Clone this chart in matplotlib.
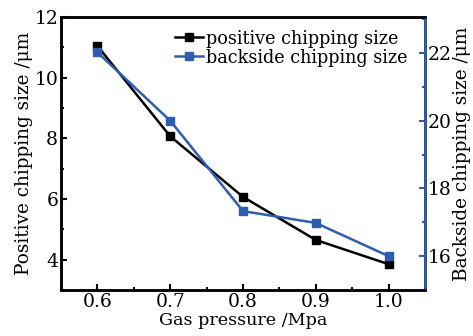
import numpy as np
import matplotlib
matplotlib.use("Agg")
import matplotlib.pyplot as plt
from matplotlib.ticker import MultipleLocator

# data
pressure = [0.6, 0.7, 0.8, 0.9, 1.0]
positive = [11.05, 8.07, 6.07, 4.65, 3.85]
backside = [22.02, 20.0, 17.33, 16.98, 16.0]

BLUE = "#2e5caf"
plt.rcParams["font.family"] = "DejaVu Serif"

fig = plt.figure(figsize=(4.73, 3.36), dpi=100)
ax = fig.add_axes([0.129, 0.137, 0.7695, 0.812])
ax2 = ax.twinx()

l1, = ax.plot(pressure, positive, color="black", lw=1.8, marker="s", ms=6,
              label="positive chipping size", zorder=3)
l2, = ax2.plot(pressure, backside, color=BLUE, lw=1.8, marker="s", ms=6,
               label="backside chipping size", zorder=3)

ax.set_xlim(0.55, 1.05)
ax.set_ylim(3, 12)
ax2.set_ylim(15, 23.06)
ax.set_xticks(pressure)
ax.xaxis.set_minor_locator(MultipleLocator(0.05))
ax.set_yticks([4, 6, 8, 10, 12])
ax.yaxis.set_minor_locator(MultipleLocator(1))
ax2.set_yticks([16, 18, 20, 22])
ax2.yaxis.set_minor_locator(MultipleLocator(1))

for a in (ax, ax2):
    a.tick_params(which="major", direction="in", length=4, width=1.5, pad=2,
                  labelsize=13.5)
    a.tick_params(which="minor", direction="in", length=2, width=1.5)
    for s in a.spines.values():
        s.set_linewidth(1.8)
ax2.tick_params(axis="y", which="both", color=BLUE)
ax2.spines["right"].set_color(BLUE)

ax.set_xlabel("Gas pressure /Mpa", fontsize=12.6, labelpad=1)
ax.set_ylabel("Positive chipping size /\u03bcm", fontsize=13.3, labelpad=1)
ax2.set_ylabel("Backside chipping size /\u03bcm", fontsize=13.3, labelpad=1)

ax.legend([l1, l2], [l1.get_label(), l2.get_label()], loc="upper right",
          bbox_to_anchor=(0.981, 0.993), frameon=False, handlelength=1.6,
          handletextpad=0.15, fontsize=12.7, borderaxespad=0.3,
          borderpad=0.3, labelspacing=0.05)

fig.savefig("out.png", dpi=100)
